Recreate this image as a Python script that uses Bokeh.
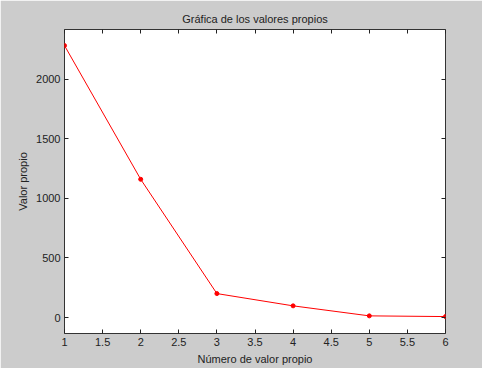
from bokeh.plotting import figure
from bokeh.models import LinearAxis, FixedTicker, CustomJSTickFormatter, Range1d
from bokeh.embed import file_html
from bokeh.resources import INLINE

x_vals = [1, 2, 3, 4, 5, 6]
eigenvalues = [2282, 1160, 201, 98, 14, 8]
x_ticks = [1, 1.5, 2, 2.5, 3, 3.5, 4, 4.5, 5, 5.5, 6]
y_ticks = [0, 500, 1000, 1500, 2000]

FONT = "Liberation Sans"
BG = "#cccccc"

p = figure(width=482, height=368, output_backend="svg", toolbar_location=None,
           x_range=Range1d(1, 6), y_range=Range1d(-134, 2417),
           min_border_left=64, min_border_right=37, min_border_top=29, min_border_bottom=35,
           background_fill_color="white", border_fill_color=BG,
           title="Gráfica de los valores propios")
p.outline_line_color = "#333333"
p.outline_line_width = 1
p.grid.visible = False

p.title.align = "center"
p.title.text_font = FONT
p.title.text_font_size = "11px"
p.title.text_font_style = "normal"
p.title.text_color = "#222222"

p.line(x_vals, eigenvalues, line_color="red", line_width=1)
p.scatter(x_vals, eigenvalues, size=4, color="red")

fmt = CustomJSTickFormatter(code="return tick.toString();")
blank = CustomJSTickFormatter(code="return '';")

for ax in p.xaxis:
    ax.ticker = FixedTicker(ticks=x_ticks)
    ax.formatter = fmt
    ax.axis_label = "Número de valor propio"
for ax in p.yaxis:
    ax.ticker = FixedTicker(ticks=y_ticks)
    ax.axis_label = "Valor propio"

top = LinearAxis(ticker=FixedTicker(ticks=x_ticks), formatter=blank)
right = LinearAxis(ticker=FixedTicker(ticks=y_ticks), formatter=blank)
p.add_layout(top, "above")
p.add_layout(right, "right")

for ax in p.axis:
    ax.axis_line_color = None
    ax.major_tick_in = 4
    ax.major_tick_out = 0
    ax.major_tick_line_color = "#222222"
    ax.minor_tick_line_color = None
    ax.major_label_text_font = FONT
    ax.major_label_text_font_size = "11px"
    ax.major_label_text_color = "#222222"
    ax.axis_label_text_font = FONT
    ax.axis_label_text_font_size = "11px"
    ax.axis_label_text_font_style = "normal"
    ax.axis_label_text_color = "#222222"
    ax.major_label_standoff = 4
    ax.axis_label_standoff = 4

for ax in (top, right):
    ax.major_label_standoff = 0
    ax.major_label_text_font_size = "1px"

open("out.html", "w").write(file_html(p, INLINE))
